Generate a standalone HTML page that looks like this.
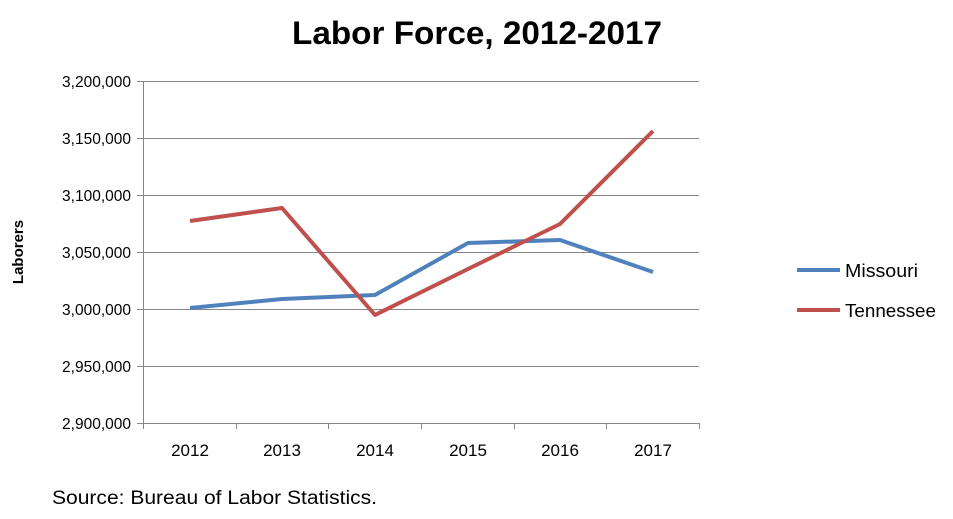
<!DOCTYPE html>
<html><head><meta charset="utf-8"><style>
body{margin:0;background:#fff;}
svg{display:block;font-family:"Liberation Sans",sans-serif;}
</style></head><body>
<svg width="953" height="519" viewBox="0 0 953 519">
<rect width="953" height="519" fill="#fff"/>
<text x="477" y="44" text-anchor="middle" font-size="32" font-weight="bold" fill="#000" textLength="370" lengthAdjust="spacingAndGlyphs">Labor Force, 2012-2017</text>
<g stroke="#868686" stroke-width="1">
<line x1="143" y1="81.5" x2="699" y2="81.5"/>
<line x1="143" y1="138.5" x2="699" y2="138.5"/>
<line x1="143" y1="195.5" x2="699" y2="195.5"/>
<line x1="143" y1="252.5" x2="699" y2="252.5"/>
<line x1="143" y1="309.5" x2="699" y2="309.5"/>
<line x1="143" y1="366.5" x2="699" y2="366.5"/>
<line x1="143" y1="423.5" x2="699" y2="423.5"/>
<line x1="143.5" y1="81" x2="143.5" y2="429"/>
<line x1="137" y1="81.5" x2="143" y2="81.5"/>
<line x1="137" y1="138.5" x2="143" y2="138.5"/>
<line x1="137" y1="195.5" x2="143" y2="195.5"/>
<line x1="137" y1="252.5" x2="143" y2="252.5"/>
<line x1="137" y1="309.5" x2="143" y2="309.5"/>
<line x1="137" y1="366.5" x2="143" y2="366.5"/>
<line x1="137" y1="423.5" x2="143" y2="423.5"/>
<line x1="236.5" y1="423" x2="236.5" y2="429"/>
<line x1="328.5" y1="423" x2="328.5" y2="429"/>
<line x1="421.5" y1="423" x2="421.5" y2="429"/>
<line x1="514.5" y1="423" x2="514.5" y2="429"/>
<line x1="606.5" y1="423" x2="606.5" y2="429"/>
<line x1="699.5" y1="423" x2="699.5" y2="429"/>
</g>
<g font-size="15.5" fill="#000" text-anchor="end">
<text x="131" y="87">3,200,000</text>
<text x="131" y="144">3,150,000</text>
<text x="131" y="201">3,100,000</text>
<text x="131" y="258">3,050,000</text>
<text x="131" y="315">3,000,000</text>
<text x="131" y="372">2,950,000</text>
<text x="131" y="429">2,900,000</text>
</g>
<g font-size="17" fill="#000" text-anchor="middle">
<text x="190" y="456">2012</text>
<text x="282" y="456">2013</text>
<text x="375" y="456">2014</text>
<text x="468" y="456">2015</text>
<text x="560" y="456">2016</text>
<text x="653" y="456">2017</text>
</g>
<text transform="translate(23,252) rotate(-90)" text-anchor="middle" font-size="15" font-weight="bold">Laborers</text>
<polyline fill="none" stroke="#4F81BD" stroke-width="4" stroke-linejoin="round" points="190,308 282,299 375,295 468,243 560,240 653,272"/>
<polyline fill="none" stroke="#C0504D" stroke-width="4" stroke-linejoin="round" points="190,221 282,208 375,315 468,269 560,224 653,131"/>
<line x1="797" y1="270" x2="840" y2="270" stroke="#4F81BD" stroke-width="4"/>
<line x1="797" y1="310" x2="840" y2="310" stroke="#C0504D" stroke-width="4"/>
<text x="845" y="277" font-size="18" textLength="73" lengthAdjust="spacingAndGlyphs">Missouri</text>
<text x="845" y="317" font-size="18" textLength="91" lengthAdjust="spacingAndGlyphs">Tennessee</text>
<text x="52" y="504" font-size="19" textLength="325" lengthAdjust="spacingAndGlyphs">Source: Bureau of Labor Statistics.</text>
</svg>
</body></html>
